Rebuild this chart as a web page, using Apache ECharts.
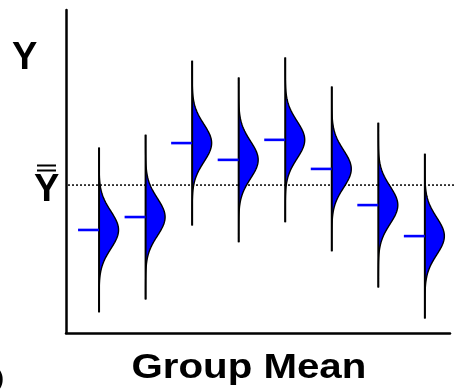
<!DOCTYPE html>
<html>
<head>
<meta charset="utf-8">
<script src="https://cdn.jsdelivr.net/npm/echarts@6/dist/echarts.min.js"></script>
<style>
  html, body { margin: 0; padding: 0; background: #fff; }
  #chart { width: 455px; height: 391px; }
</style>
</head>
<body>
<div id="chart"></div>
<script>
// Group positions along the horizontal axis and each group's mean response
const groups = [1, 2, 3, 4, 5, 6, 7, 8];
const groupMeans = [3.19, 3.59, 5.88, 5.36, 5.98, 5.08, 3.96, 3.00];
// Within-group spread (standard deviation) and the vertical extent of each group's support
const groupSigma = [0.58, 0.58, 0.58, 0.58, 0.58, 0.58, 0.58, 0.58];
const groupHalfRange = [2.55, 2.55, 2.55, 2.55, 2.55, 2.55, 2.55, 2.55];
// Grand mean across all groups
const grandMean = [4.58];

const FONT = '"Liberation Sans", Arial, Helvetica, sans-serif';
const DENSITY_PEAK_PX = 19.5;  // horizontal height of each density curve
const MEAN_TICK_PX = 21;       // length of the blue mean marker

const chart = echarts.init(document.getElementById('chart'), null, { renderer: 'canvas' });

function renderGroup(params, api) {
  const x = api.value(0);
  const m = api.value(1);
  const sd = api.value(2);
  const half = api.value(3);
  const c = api.coord([x, m]);
  const top = api.coord([x, m + half]);
  const bot = api.coord([x, m - half]);
  const sdPx = api.size([0, sd])[1];

  const curve = [];
  const steps = 120;
  const zMax = (c[1] - top[1]) / sdPx;
  for (let i = 0; i <= steps; i++) {
    const z = -zMax + (2 * zMax * i) / steps;
    const py = c[1] - z * sdPx;
    const px = c[0] + DENSITY_PEAK_PX * Math.exp(-0.5 * z * z);
    curve.push([px, py]);
  }
  const fillPts = [[c[0], curve[0][1]]].concat(curve, [[c[0], curve[curve.length - 1][1]]]);

  return {
    type: 'group',
    children: [
      { type: 'polygon', shape: { points: fillPts }, style: { fill: '#0000ff', stroke: null } },
      { type: 'polyline', shape: { points: curve }, style: { stroke: '#000', lineWidth: 1.4, fill: null } },
      { type: 'line', shape: { x1: c[0], y1: top[1], x2: c[0], y2: bot[1] }, style: { stroke: '#000', lineWidth: 2 } },
      { type: 'line', shape: { x1: c[0] - MEAN_TICK_PX, y1: c[1], x2: c[0], y2: c[1] }, style: { stroke: '#0000ff', lineWidth: 2.6 } }
    ]
  };
}

function renderGrandMean(params, api) {
  const p = api.coord([0.29, api.value(0)]);
  const cs = params.coordSys;
  return {
    type: 'line',
    shape: { x1: cs.x + 2, y1: p[1], x2: api.getWidth(), y2: p[1] },
    style: { stroke: '#000', lineWidth: 1.5, lineDash: [2, 2] }
  };
}

const groupData = groups.map((g, i) => [g, groupMeans[i], groupSigma[i], groupHalfRange[i]]);

chart.setOption({
  animation: false,
  backgroundColor: '#fff',
  grid: { left: 66, right: 5, top: 10, bottom: 58 },
  xAxis: {
    type: 'value', min: 0.29, max: 8.54,
    axisLine: { show: true, onZero: false, lineStyle: { color: '#000', width: 2.5 } },
    axisTick: { show: false }, axisLabel: { show: false }, splitLine: { show: false }
  },
  yAxis: {
    type: 'value', min: 0, max: 10,
    axisLine: { show: true, onZero: false, lineStyle: { color: '#000', width: 2.5 } },
    axisTick: { show: false }, axisLabel: { show: false }, splitLine: { show: false }
  },
  series: [
    {
      type: 'custom', renderItem: renderGrandMean, data: grandMean.map(v => [v]),
      encode: { y: 0 }, clip: false, silent: true, z: 1
    },
    {
      type: 'custom', renderItem: renderGroup, data: groupData,
      encode: { x: 0, y: 1 }, clip: false, silent: true, z: 2
    }
  ],
  graphic: [
    {
      type: 'text', x: 12, y: 40,
      style: { text: 'Y', font: 'bold 38px ' + FONT, fill: '#000', verticalAlign: 'top' }
    },
    {
      type: 'text', x: 34, y: 172,
      style: { text: 'Y', font: 'bold 38px ' + FONT, fill: '#000', verticalAlign: 'top' }
    },
    { type: 'line', shape: { x1: 37, y1: 165.5, x2: 56, y2: 165.5 }, style: { stroke: '#000', lineWidth: 2 } },
    { type: 'line', shape: { x1: 37, y1: 170.5, x2: 56, y2: 170.5 }, style: { stroke: '#000', lineWidth: 2 } },
    {
      type: 'text', x: 131.5, y: 351, scaleX: 1.15, scaleY: 1,
      style: { text: 'Group Mean', font: 'bold 35px ' + FONT, fill: '#000', verticalAlign: 'top' }
    },
    {
      type: 'text', x: -3, y: 369,
      style: { text: ')', font: 'bold 20px ' + FONT, fill: '#000', verticalAlign: 'top' }
    }
  ]
});
</script>
</body>
</html>
